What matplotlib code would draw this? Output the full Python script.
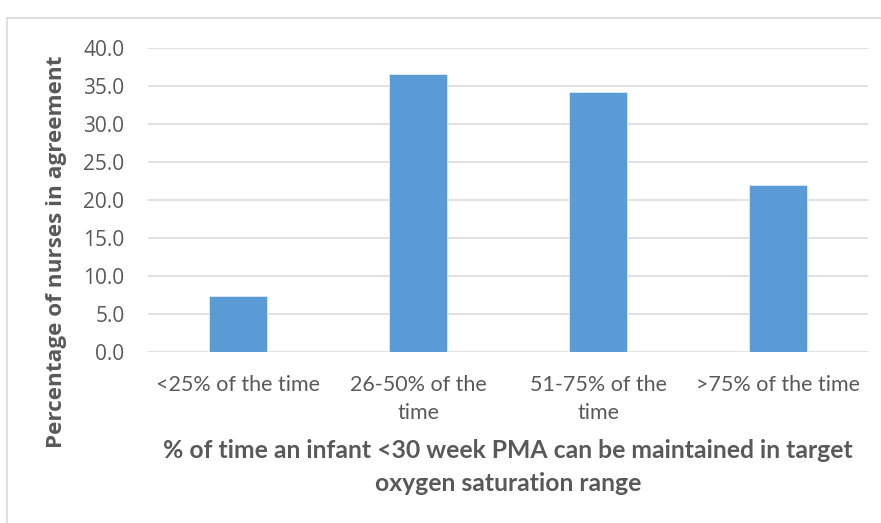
import matplotlib
matplotlib.use("Agg")
import matplotlib.pyplot as plt
from matplotlib.lines import Line2D

categories = ["<25% of the time", "26-50% of the\ntime", "51-75% of the\ntime", ">75% of the time"]
values = [7.32, 36.59, 34.15, 21.95]
yticks = [0, 5, 10, 15, 20, 25, 30, 35, 40]
ytick_labels = ["0.0", "5.0", "10.0", "15.0", "20.0", "25.0", "30.0", "35.0", "40.0"]
xlabel = "% of time an infant <30 week PMA can be maintained in target\noxygen saturation range"
ylabel = "Percentage of nurses in agreement"

W, H = 881, 523
fig = plt.figure(figsize=(W / 100, H / 100), dpi=100)
ax = fig.add_axes([148 / W, 1 - 352 / H, 720 / W, 304 / H])

bar_color = "#5B9BD5"
text_color = "#595959"
grid_color = "#D9D9D9"

x = list(range(len(categories)))
ax.bar(x, values, width=0.317, color=bar_color, edgecolor="#DDEBF7", linewidth=0.6, zorder=3)
ax.set_xlim(-0.5, len(categories) - 0.5)
ax.set_ylim(0, 40)
ax.set_yticks(yticks)
ax.set_yticklabels(ytick_labels)
ax.set_xticks(x)
ax.set_xticklabels(categories, linespacing=1.5)
ax.grid(axis="y", color=grid_color, linewidth=1.1, zorder=0)
ax.set_axisbelow(True)
for s in ax.spines.values():
    s.set_visible(False)
ax.tick_params(axis="both", length=0, colors=text_color)
ax.tick_params(axis="y", pad=17)
ax.tick_params(axis="x", pad=16.5)

for lab in ax.get_xticklabels():
    lab.set_fontfamily(["Lato"])
    lab.set_fontsize(15.5)
for lab in ax.get_yticklabels():
    lab.set_fontfamily(["Open Sans"])
    lab.set_fontsize(15)

fig.text(508 / W, 1 - 467 / H, xlabel, ha="center", va="center", ma="center",
         fontsize=17.8, fontweight="bold", color=text_color, family=["Lato"],
         linespacing=1.48)
fig.text(57 / W, 1 - 252 / H, ylabel, rotation=90, ha="center", va="center",
         fontsize=16.2, fontweight="bold", color=text_color, family=["Open Sans"])

# outer chart border (light gray)
fig.add_artist(Line2D([7 / W, 1.0], [1 - 18 / H, 1 - 18 / H], transform=fig.transFigure,
                      color=grid_color, linewidth=1.2))
fig.add_artist(Line2D([7 / W, 7 / W], [0, 1 - 18 / H], transform=fig.transFigure,
                      color=grid_color, linewidth=1.2))

fig.savefig("out.png", dpi=100)
